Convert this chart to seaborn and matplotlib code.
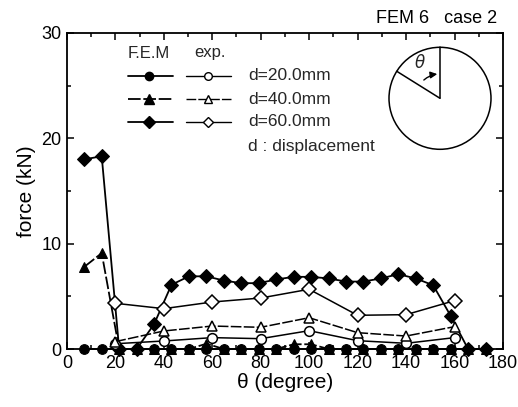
import numpy as np
import pandas as pd
import seaborn as sns
import matplotlib
matplotlib.use("Agg")
import matplotlib.pyplot as plt
from matplotlib.patches import Circle, FancyArrowPatch
from matplotlib.lines import Line2D
from matplotlib.ticker import MultipleLocator

# ---- data -------------------------------------------------------------
# F.E.M. nodes every 7.2 degrees
theta_fem = [7.2, 14.4, 21.6, 28.8, 36.0, 43.2, 50.4, 57.6, 64.8, 72.0, 79.2, 86.4,
             93.6, 100.8, 108.0, 115.2, 122.4, 129.6, 136.8, 144.0, 151.2, 158.4,
             165.6, 172.8]
fem_d20 = [0.0] * 24
fem_d40 = [7.8, 9.1, 0.0, 0.0, 0.0, 0.0, 0.0, 0.5, 0.0, 0.0, 0.0, 0.0,
           0.45, 0.45, 0.0, 0.0, 0.0, 0.0, 0.0, 0.0, 0.0, 0.0, 0.0, 0.0]
fem_d60 = [18.0, 18.3, 0.0, 0.0, 2.35, 6.1, 6.9, 6.9, 6.5, 6.25, 6.25, 6.6,
           6.85, 6.85, 6.7, 6.4, 6.4, 6.7, 7.1, 6.7, 6.05, 3.15, 0.0, 0.0]

# experiment, every 20 degrees
theta_exp = [20, 40, 60, 80, 100, 120, 140, 160]
exp_d20 = [0.5, 0.76, 1.08, 0.98, 1.74, 0.79, 0.54, 1.08]
exp_d40 = [0.7, 1.71, 2.18, 2.06, 2.97, 1.55, 1.23, 2.12]
exp_d60 = [4.34, 3.83, 4.46, 4.84, 5.67, 3.2, 3.26, 4.59]

disp_labels = ["d=20.0mm", "d=40.0mm", "d=60.0mm"]
markers = ["o", "^", "D"]

sns.set_theme(style="ticks")
plt.rcParams["font.family"] = ["Liberation Sans", "DejaVu Sans"]
plt.rcParams["mathtext.fontset"] = "dejavusans"

fig = plt.figure(figsize=(5.18, 4.07), dpi=100)
ax = fig.add_axes([0.129, 0.1425, 0.842, 0.7765])

dash40 = (7, 1.5)
fem_series = [fem_d20, fem_d40, fem_d60]
exp_series = [exp_d20, exp_d40, exp_d60]
msize = [7, 7.5, 7]
fem_z = [3, 3.2, 3.5]

for i in range(3):
    ls = (0, dash40) if i == 1 else "-"
    df = pd.DataFrame({"theta": theta_fem, "force": fem_series[i]})
    sns.lineplot(data=df, x="theta", y="force", ax=ax, color="black",
                 linewidth=1.3, marker=markers[i], markersize=msize[i],
                 markerfacecolor="black", markeredgecolor="black",
                 linestyle=ls, estimator=None, sort=False, zorder=fem_z[i],
                 clip_on=False)
for i in range(3):
    ls = (0, dash40) if i == 1 else "-"
    df = pd.DataFrame({"theta": theta_exp, "force": exp_series[i]})
    sns.lineplot(data=df, x="theta", y="force", ax=ax, color="black",
                 linewidth=1.1, marker=markers[i], markersize=msize[i],
                 markerfacecolor="white", markeredgecolor="black",
                 markeredgewidth=1.1, linestyle=ls, estimator=None, sort=False,
                 zorder=4, clip_on=False)

ax.set_xlim(0, 180)
ax.set_ylim(0, 30)
ax.xaxis.set_major_locator(MultipleLocator(20))
ax.xaxis.set_minor_locator(MultipleLocator(10))
ax.yaxis.set_major_locator(MultipleLocator(10))
ax.yaxis.set_minor_locator(MultipleLocator(5))
ax.tick_params(which="both", direction="in", top=True, right=True,
               labelsize=13, width=1.1, color="black", labelcolor="black")
ax.tick_params(which="major", length=5, pad=4)
ax.tick_params(which="minor", length=3)
for s in ax.spines.values():
    s.set_linewidth(1.3)
    s.set_color("black")
ax.set_xlabel("θ (degree)", fontsize=15, labelpad=1, color="black")
ax.set_ylabel("force (kN)", fontsize=15, labelpad=4, color="black")

fig.text(0.959, 0.955, "FEM 6   case 2", ha="right", va="center",
         fontsize=13, color="black")

# ---- legend block ------------------------------------------------------
def px(x, y):
    return (x / 518.0, 1 - y / 407.0)

fig.text(*px(149, 53), "F.E.M", ha="center", va="center", fontsize=12)
fig.text(*px(210, 53), "exp.", ha="center", va="center", fontsize=12)
rows_y = [76, 99, 121.7]
for i, yy in enumerate(rows_y):
    ls = (0, dash40) if i == 1 else "-"
    x0, y0 = px(128, yy)
    x1, _ = px(173, yy)
    xm, _ = px(149.3, yy)
    fig.add_artist(Line2D([x0, x1], [y0, y0], color="black", lw=1.3,
                          linestyle=ls, transform=fig.transFigure))
    fig.add_artist(Line2D([xm], [y0], marker=markers[i], markersize=msize[i] - 1,
                          color="black", markerfacecolor="black",
                          transform=fig.transFigure))
    x0, _ = px(186, yy)
    x1, _ = px(231, yy)
    xm, _ = px(208.3, yy)
    fig.add_artist(Line2D([x0, x1], [y0, y0], color="black", lw=1.0,
                          linestyle=ls, transform=fig.transFigure))
    fig.add_artist(Line2D([xm], [y0], marker=markers[i], markersize=msize[i] - 1.5,
                          color="black", markerfacecolor="white", markeredgewidth=1.0,
                          transform=fig.transFigure))
    fig.text(*px(248, yy), disp_labels[i], ha="left", va="center", fontsize=12.5)
fig.text(*px(248, 146.7), "d : displacement", ha="left", va="center", fontsize=12.5)

# ---- angle sketch ------------------------------------------------------
cx, cy, half = 440, 98.3, 56
ins = fig.add_axes([(cx - half) / 518, 1 - (cy + half) / 407,
                    2 * half / 518, 2 * half / 407])
ins.set_xlim(-half / 51, half / 51)
ins.set_ylim(-half / 51, half / 51)
ins.set_aspect("equal")
ins.axis("off")
ins.patch.set_alpha(0)
ins.add_patch(Circle((0, 0), 1.0, fill=False, lw=1.1, ec="black"))
ins.plot([0, 0], [0, 1.0], color="black", lw=1.1)
ang = np.deg2rad(90 + 58)
ins.plot([0, np.cos(ang)], [0, np.sin(ang)], color="black", lw=1.1)
r = 0.48
a0 = np.deg2rad(138)
ins.add_patch(FancyArrowPatch((r * np.cos(a0), r * np.sin(a0)), (0, r),
                              connectionstyle="arc3,rad=-0.2",
                              arrowstyle="-|>,head_length=4,head_width=2",
                              color="black", lw=1.0, mutation_scale=1))
ins.text(-0.39, 0.72, r"$\theta$", ha="center", va="center", fontsize=12,
         fontweight="bold")

fig.savefig("out.png", dpi=100)
